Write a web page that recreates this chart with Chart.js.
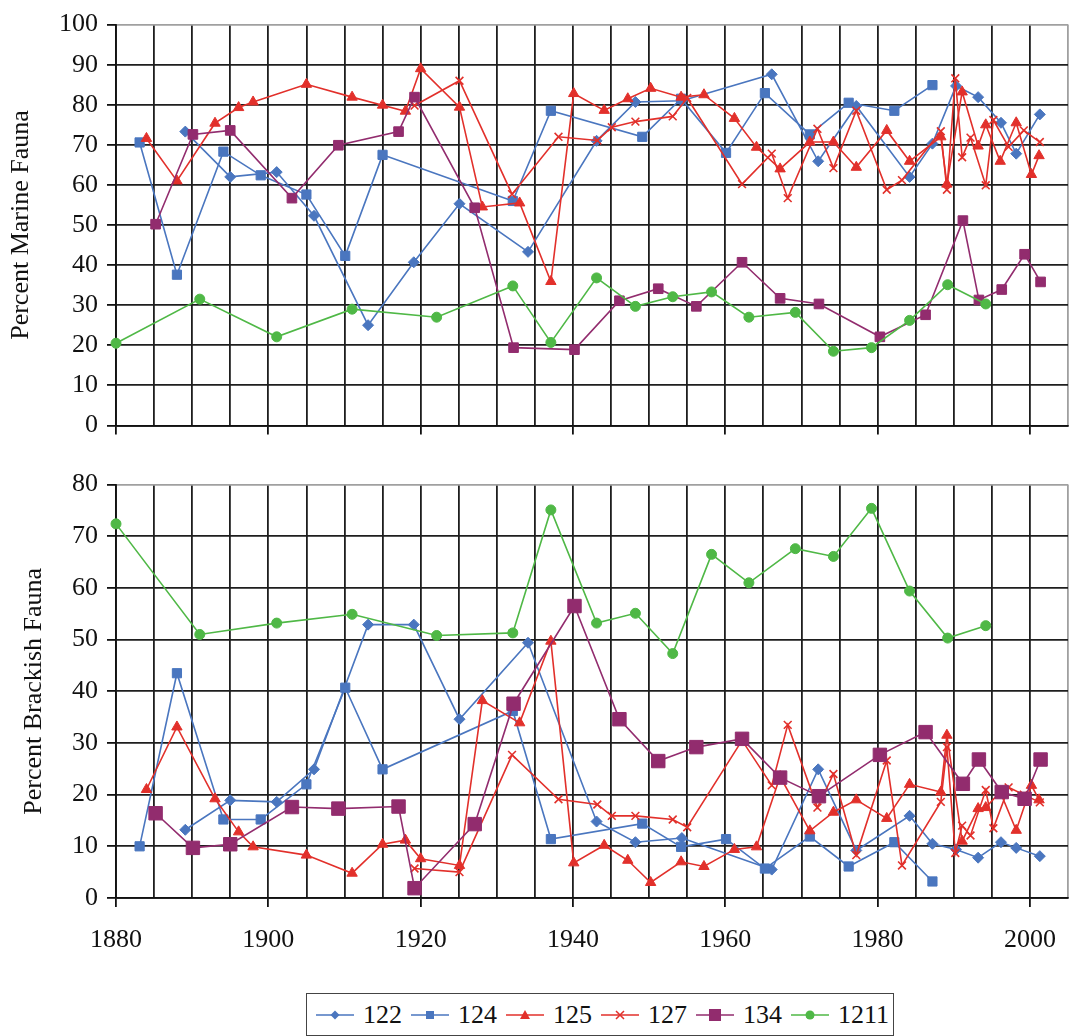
<!DOCTYPE html>
<html>
<head>
<meta charset="utf-8">
<script src="https://cdn.jsdelivr.net/npm/chart.js@4.4.1/dist/chart.umd.min.js"></script>
<style>
  body { margin: 0; background: #fff; }
  #page { position: relative; width: 1086px; height: 1036px; overflow: hidden; }
  canvas { position: absolute; left: 0; }
  #legend {
    position: absolute; left: 306px; top: 993px; width: 588px; height: 43px;
    border: 1.5px solid #444; box-sizing: border-box;
    font-family: 'Liberation Serif', 'DejaVu Serif', serif; font-size: 26px; color: #111;
  }
  .item { position: absolute; top: 0; height: 41px; display: flex; align-items: center; }
  .item svg { margin-right: 9px; }
</style>
</head>
<body>
<div id="page">
  <canvas id="marineChart" width="1086" height="450" style="top:0"></canvas>
  <canvas id="brackishChart" width="1086" height="530" style="top:460px"></canvas>
  <div id="legend"></div>
</div>
<script>
// Sample years and percentages for each core

const years122 = [1889.1, 1895, 1901.1, 1906, 1913.1, 1919.1, 1925.1, 1934.1, 1943.1, 1948.2, 1954.3, 1966.1, 1972.2, 1977.2, 1984.2, 1987.2, 1990.3, 1993.2, 1996.2, 1998.2, 2001.3];
const marine122 = [73.3, 62, 63.2, 52.3, 25, 40.7, 55.3, 43.3, 71, 80.7, 81, 87.6, 65.9, 79.7, 62, 70.3, 84.7, 81.9, 75.5, 67.8, 77.6];
const brackish122 = [13.2, 18.9, 18.6, 24.9, 52.9, 52.9, 34.6, 49.4, 14.8, 10.8, 11.6, 5.5, 24.9, 9.2, 15.9, 10.5, 9.4, 7.8, 10.8, 9.7, 8.1];

const years124 = [1883.1, 1888, 1894.1, 1899, 1905, 1910.1, 1915, 1932.1, 1937.1, 1949.1, 1954.2, 1960.1, 1965.2, 1971.1, 1976.2, 1982.2, 1987.2];
const marine124 = [70.6, 37.6, 68.3, 62.4, 57.6, 42.3, 67.5, 56, 78.5, 72, 81.5, 68, 82.9, 72.6, 80.5, 78.5, 84.9];
const brackish124 = [10, 43.5, 15.2, 15.2, 22, 40.7, 24.9, 36.2, 11.4, 14.4, 9.9, 11.4, 5.7, 11.9, 6.1, 10.8, 3.2];

const years125 = [1884, 1888, 1893, 1896.1, 1898, 1905, 1911, 1915, 1918, 1920, 1925.1, 1928.1, 1933, 1937.1, 1940.1, 1944.1, 1947.2, 1950.2, 1954.2, 1957.2, 1961.2, 1964.1, 1967.2, 1971.1, 1974.2, 1977.2, 1981.2, 1984.2, 1988.3, 1989.1, 1991.1, 1993.2, 1994.2, 1996.1, 1998.2, 2000.2, 2001.2];
const marine125 = [71.6, 61, 75.4, 79.3, 80.7, 85.1, 81.9, 79.9, 78.4, 89, 79.4, 54.5, 55.5, 35.9, 82.8, 78.6, 81.5, 84.1, 81.9, 82.5, 76.6, 69.4, 64, 70.7, 70.7, 64.4, 73.6, 65.9, 72, 60.2, 83.2, 69.7, 75, 65.9, 75.5, 62.6, 67.3];
const brackish125 = [21, 33.1, 19.2, 12.8, 9.9, 8.3, 4.8, 10.4, 11.2, 7.6, 6.3, 38.2, 33.9, 49.7, 6.8, 10.2, 7.3, 3.0, 7.0, 6.1, 9.4, 9.9, 23.5, 13, 16.6, 19, 15.4, 22, 20.5, 31.5, 11, 17.3, 17.5, 20.5, 13.1, 21.8, 19];

const years127 = [1919.2, 1925.1, 1932, 1938.1, 1943.2, 1945.1, 1948.2, 1953.1, 1955, 1962.2, 1966.1, 1968.2, 1972.1, 1974.2, 1977.2, 1981.2, 1983.2, 1988.3, 1989.1, 1990.2, 1991.1, 1992.2, 1994.2, 1995.2, 1997.2, 1999.2, 2001.3];
const marine127 = [79.8, 86, 57.7, 72, 71.1, 74.4, 75.8, 77.1, 81.7, 60.2, 67.8, 56.7, 74, 64.2, 78.5, 58.8, 61.2, 73.4, 58.8, 86.6, 66.9, 71.8, 59.9, 76.2, 69.5, 73.6, 70.7];
const brackish127 = [5.7, 5.0, 27.7, 19.1, 18.1, 15.9, 15.9, 15.2, 13.7, 30.5, 21.8, 33.5, 17.5, 24, 8.3, 26.6, 6.3, 18.6, 29.2, 8.7, 14, 12.1, 20.9, 13.5, 21.4, 20, 18.5];

const years134 = [1885.2, 1890.1, 1895, 1903.1, 1909.2, 1917.1, 1919.2, 1927.1, 1932.2, 1940.2, 1946.1, 1951.2, 1956.2, 1962.2, 1967.2, 1972.3, 1980.3, 1986.3, 1991.2, 1993.3, 1996.3, 1999.3, 2001.4];
const marine134 = [50.2, 72.6, 73.6, 56.7, 69.9, 73.3, 81.9, 54.3, 19.4, 18.9, 31.1, 34.1, 29.7, 40.7, 31.7, 30.3, 22.1, 27.6, 51.1, 31.3, 33.9, 42.7, 35.8];
const brackish134 = [16.4, 9.7, 10.4, 17.6, 17.3, 17.7, 1.9, 14.3, 37.6, 56.5, 34.6, 26.5, 29.2, 30.8, 23.3, 19.7, 27.7, 32.1, 22.1, 26.8, 20.5, 19.2, 26.8];

const years1211 = [1880, 1891, 1901.1, 1911, 1922.1, 1932.1, 1937.1, 1943.1, 1948.2, 1953.1, 1958.2, 1963.1, 1969.2, 1974.2, 1979.2, 1984.2, 1989.2, 1994.2];
const marine1211 = [20.5, 31.5, 22.1, 29, 27, 34.8, 20.7, 36.8, 29.7, 32.1, 33.3, 27, 28.2, 18.5, 19.4, 26.2, 35.1, 30.3];
const brackish1211 = [72.4, 51, 53.2, 54.9, 50.8, 51.3, 75.1, 53.2, 55.1, 47.3, 66.5, 61, 67.6, 66.1, 75.4, 59.4, 50.3, 52.7];

const FONT = "'Liberation Serif', 'DejaVu Serif', serif";
const BLUE = "#4a76bf";
const RED = "#e2302b";
const PURPLE = "#922c6e";
const GREEN = "#4fb846";

// marker style per core (radius is for the upper panel, bigRadius for the lower one)
const cores = [
	{ label: "122", years: years122, marine: marine122, brackish: brackish122, color: BLUE, point: "rectRot", radius: 5.5 },
	{ label: "124", years: years124, marine: marine124, brackish: brackish124, color: BLUE, point: "rect", radius: 6.5 },
	{ label: "125", years: years125, marine: marine125, brackish: brackish125, color: RED, point: "triangle", radius: 6 },
	{ label: "127", years: years127, marine: marine127, brackish: brackish127, color: RED, point: "crossRot", radius: 5.5 },
	{ label: "134", years: years134, marine: marine134, brackish: brackish134, color: PURPLE, point: "rect", radius: 6.8, bigRadius: 9.5 },
	{ label: "1211", years: years1211, marine: marine1211, brackish: brackish1211, color: GREEN, point: "circle", radius: 5 },
];

function makeDatasets(key, lower) {
	return cores.map(function (c, i) {
		let pts = c.years.map(function (yr, j) {
			return { x: yr, y: c[key][j] };
		});
		return {
			label: c.label,
			data: pts,
			borderColor: c.color,
			backgroundColor: c.color,
			borderWidth: 1.6,
			pointStyle: c.point,
			pointRadius: lower && c.bigRadius ? c.bigRadius : c.radius,
			pointBorderWidth: c.point === "crossRot" ? 1.6 : 1,
			pointBorderColor: c.color,
			pointBackgroundColor: c.color,
			tension: 0,
			clip: false,
			order: cores.length - i,
		};
	});
}

function makeOptions(yMax, yTitle, titlePad, showYears, topPad, xHeight) {
	return {
		responsive: false,
		animation: false,
		events: [],
		layout: { padding: { top: topPad, right: 3, left: 0, bottom: 0 } },
		plugins: { legend: { display: false }, tooltip: { enabled: false } },
		scales: {
			x: {
				type: "linear",
				min: 1880,
				max: 2005,
				afterFit: function (scale) { scale.height = xHeight; },
				ticks: {
					stepSize: 5,
					autoSkip: false,
					maxRotation: 0,
					padding: 18,
					color: "#111",
					font: { family: FONT, size: 26 },
					callback: function (v) {
						return showYears && v % 20 === 0 ? String(v) : "";
					},
				},
				grid: {
					lineWidth: 1.8,
					tickLength: 9,
					color: function (ctx) {
						return ctx.tick && ctx.tick.value === 2005 ? "#a0a0a0" : "#1e1e1e";
					},
					tickColor: function (ctx) {
						return ctx.tick && ctx.tick.value % 20 === 0 ? "#111" : "rgba(0,0,0,0)";
					},
				},
				border: { color: "#111", width: 1.8 },
			},
			y: {
				min: 0,
				max: yMax,
				afterFit: function (scale) { scale.width = 116; },
				ticks: {
					stepSize: 10,
					padding: 9,
					color: "#111",
					font: { family: FONT, size: 26 },
				},
				grid: {
					lineWidth: 1.8,
					tickLength: 9,
					tickColor: "#111",
					color: function (ctx) {
						return ctx.tick && ctx.tick.value === yMax ? "#a0a0a0" : "#1e1e1e";
					},
				},
				border: { color: "#111", width: 1.8 },
				title: {
					display: true,
					text: yTitle,
					color: "#111",
					font: { family: FONT, size: 26 },
					padding: { top: titlePad, bottom: 0 },
				},
			},
		},
	};
}

new Chart(document.getElementById("marineChart"), {
	type: "line",
	data: { datasets: makeDatasets("marine", false) },
	options: makeOptions(100, "Percent Marine Fauna", 6, false, 17, 23),
});

new Chart(document.getElementById("brackishChart"), {
	type: "line",
	data: { datasets: makeDatasets("brackish", true) },
	options: makeOptions(80, "Percent Brackish Fauna", 19, true, 24, 92),
});

// Legend: short line with the marker in the middle, then the core number
function markerSvg(c) {
	let s = '<svg width="38" height="20" viewBox="0 0 38 20">';
	s += '<line x1="0" y1="10" x2="38" y2="10" stroke="' + c.color + '" stroke-width="1.5"/>';
	if (c.point === "rectRot") {
		s += '<polygon points="19,5.5 23.5,10 19,14.5 14.5,10" fill="' + c.color + '"/>';
	} else if (c.point === "rect" && c.bigRadius) {
		s += '<rect x="13" y="4" width="12" height="12" fill="' + c.color + '"/>';
	} else if (c.point === "rect") {
		s += '<rect x="15" y="6" width="8" height="8" fill="' + c.color + '"/>';
	} else if (c.point === "triangle") {
		s += '<polygon points="19,5 24,14 14,14" fill="' + c.color + '"/>';
	} else if (c.point === "crossRot") {
		s += '<path d="M15 6 L23 14 M23 6 L15 14" stroke="' + c.color + '" stroke-width="1.5"/>';
	} else {
		s += '<circle cx="19" cy="10" r="4.5" fill="' + c.color + '"/>';
	}
	return s + "</svg>";
}

const legendDiv = document.getElementById("legend");
cores.forEach(function (c, i) {
	const item = document.createElement("div");
	item.className = "item";
	item.style.left = (9 + i * 95) + "px";
	item.innerHTML = markerSvg(c) + "<span>" + c.label + "</span>";
	legendDiv.appendChild(item);
});
</script>
</body>
</html>
